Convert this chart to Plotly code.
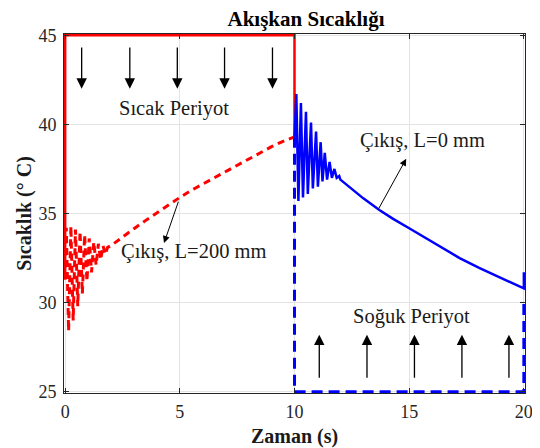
import plotly.graph_objects as go

# ---- data ----
hot_in_t = [0, 0, 10, 10]
hot_in_y = [31.3, 45, 45, 39.3]

out200_t = [0.00, 0.05, 0.15, 0.25, 0.35, 0.45, 0.55, 0.65, 0.75, 0.85, 0.95, 1.05, 1.15,
            1.25, 1.35, 1.45, 1.55, 1.65, 1.75, 1.85, 2.0, 2.5, 3.0, 3.5, 4.0, 4.5, 5.0,
            5.5, 6.0, 6.5, 7.0, 7.5, 8.0, 8.5, 9.0, 9.5, 10.0]
out200_y = [31.3, 34.2, 28.4, 34.3, 29.0, 34.1, 29.8, 34.0, 30.5, 33.8, 31.2, 33.6, 31.7,
            33.4, 32.1, 33.3, 32.4, 33.2, 32.7, 33.1, 33.2, 33.7, 34.15, 34.6, 35.05, 35.5, 35.9,
            36.3, 36.65, 37.0, 37.35, 37.7, 38.05, 38.4, 38.75, 39.05, 39.3]

out0_t = [10.00, 10.08, 10.17, 10.28, 10.37, 10.50, 10.58, 10.72, 10.80, 10.94, 11.02, 11.14,
          11.22, 11.32, 11.42, 11.53, 11.63, 11.74, 11.84, 11.95, 12.0, 12.5, 13.0, 13.7, 14.3,
          15.0, 15.7, 16.45, 17.2, 18.05, 18.8, 19.5, 20.0, 20.0]
out0_y = [39.3, 41.7, 35.7, 41.2, 35.9, 40.7, 36.1, 40.1, 36.4, 39.6, 36.5, 39.0,
          36.8, 38.4, 36.9, 37.9, 37.0, 37.5, 37.0, 37.1, 36.9, 36.35, 35.85, 35.2, 34.7,
          34.17, 33.65, 33.06, 32.5, 31.95, 31.5, 31.1, 30.8, 31.7]

cold_in_t = [10, 10, 20, 20]
cold_in_y = [39.3, 25, 25, 30.2]

x_ticks = [0, 5, 10, 15, 20]
y_ticks = [25, 30, 35, 40, 45]

down_arrow_t = [0.72, 2.82, 4.89, 6.95, 9.04]
up_arrow_t = [11.08, 13.16, 15.23, 17.3, 19.35]

SERIF = "Liberation Serif, Times New Roman, serif"

# page has an 8px body margin; figure sized so it fills the 540x448 window
W, H = 532, 440

fig = go.Figure()
fig.add_trace(go.Scatter(x=hot_in_t, y=hot_in_y, mode="lines",
                         line=dict(color="#ff0000", width=2.5), showlegend=False))
fig.add_trace(go.Scatter(x=out200_t, y=out200_y, mode="lines",
                         line=dict(color="#ff0000", width=3, dash="7px,5px"), showlegend=False))
fig.add_trace(go.Scatter(x=out0_t, y=out0_y, mode="lines",
                         line=dict(color="#0000ff", width=2.5), showlegend=False))
fig.add_trace(go.Scatter(x=cold_in_t, y=cold_in_y, mode="lines",
                         line=dict(color="#0000ff", width=3, dash="11px,6px"), showlegend=False))

ann = []
for t in down_arrow_t:
    ann.append(dict(x=t, y=42.0, ax=t, ay=44.4, xref="x", yref="y", axref="x", ayref="y",
                    text="", showarrow=True, arrowhead=2, arrowsize=1.6, arrowwidth=1.3,
                    arrowcolor="black"))
for t in up_arrow_t:
    ann.append(dict(x=t, y=28.2, ax=t, ay=25.7, xref="x", yref="y", axref="x", ayref="y",
                    text="", showarrow=True, arrowhead=2, arrowsize=1.6, arrowwidth=1.3,
                    arrowcolor="black"))
# pointer arrows
ann.append(dict(x=14.87, y=38.07, ax=13.64, ay=35.2, xref="x", yref="y", axref="x", ayref="y",
                text="", showarrow=True, arrowhead=2, arrowsize=1.4, arrowwidth=1,
                arrowcolor="black"))
ann.append(dict(x=4.31, y=33.34, ax=4.96, ay=35.75, xref="x", yref="y", axref="x", ayref="y",
                text="", showarrow=True, arrowhead=2, arrowsize=1.4, arrowwidth=1,
                arrowcolor="black"))

labels = [("Sıcak Periyot", 4.75, 40.9), ("Soğuk Periyot", 15.08, 29.2),
          ("Çıkış, L=0 mm", 15.56, 39.1), ("Çıkış, L=200 mm", 5.61, 32.87)]
for txt, x, y in labels:
    ann.append(dict(x=x, y=y, xref="x", yref="y", text=txt, showarrow=False,
                    font=dict(family=SERIF, size=20.5, color="#1a1a1a"),
                    xanchor="center", yanchor="middle"))

fig.update_layout(
    template="none",
    width=W, height=H,
    margin=dict(l=56, r=15, t=26, b=55, autoexpand=False),
    paper_bgcolor="white", plot_bgcolor="white",
    title=dict(text="Akışkan Sıcaklığı", x=298 / W, xref="container", xanchor="center",
               y=1 - 11 / H, yref="container", yanchor="middle",
               font=dict(family=SERIF, size=21, color="black", weight="bold")),
    annotations=ann,
)
fig.update_xaxes(range=[-0.05, 20.05], tickvals=x_ticks, ticktext=[str(v) for v in x_ticks],
                 automargin=False,
                 showgrid=True, gridcolor="#e3e3e3", gridwidth=1, zeroline=False,
                 showline=True, linecolor="#262626", linewidth=1, mirror="ticks",
                 ticks="inside", ticklen=5, tickcolor="#262626",
                 tickfont=dict(family=SERIF, size=18, color="#262626"),
                 ticklabelstandoff=2,
                 title=dict(text="Zaman (s)", standoff=10,
                            font=dict(family=SERIF, size=20, color="#1a1a1a", weight="bold")))
fig.update_yaxes(range=[24.93, 45.07], tickvals=y_ticks, ticktext=[str(v) for v in y_ticks],
                 automargin=False,
                 showgrid=True, gridcolor="#e3e3e3", gridwidth=1, zeroline=False,
                 showline=True, linecolor="#262626", linewidth=1, mirror="ticks",
                 ticks="inside", ticklen=5, tickcolor="#262626",
                 tickfont=dict(family=SERIF, size=18, color="#262626"),
                 ticklabelstandoff=3,
                 title=dict(text="Sıcaklık (° C)", standoff=1,
                            font=dict(family=SERIF, size=20, color="#1a1a1a", weight="bold")))

fig.write_html("out.html")
